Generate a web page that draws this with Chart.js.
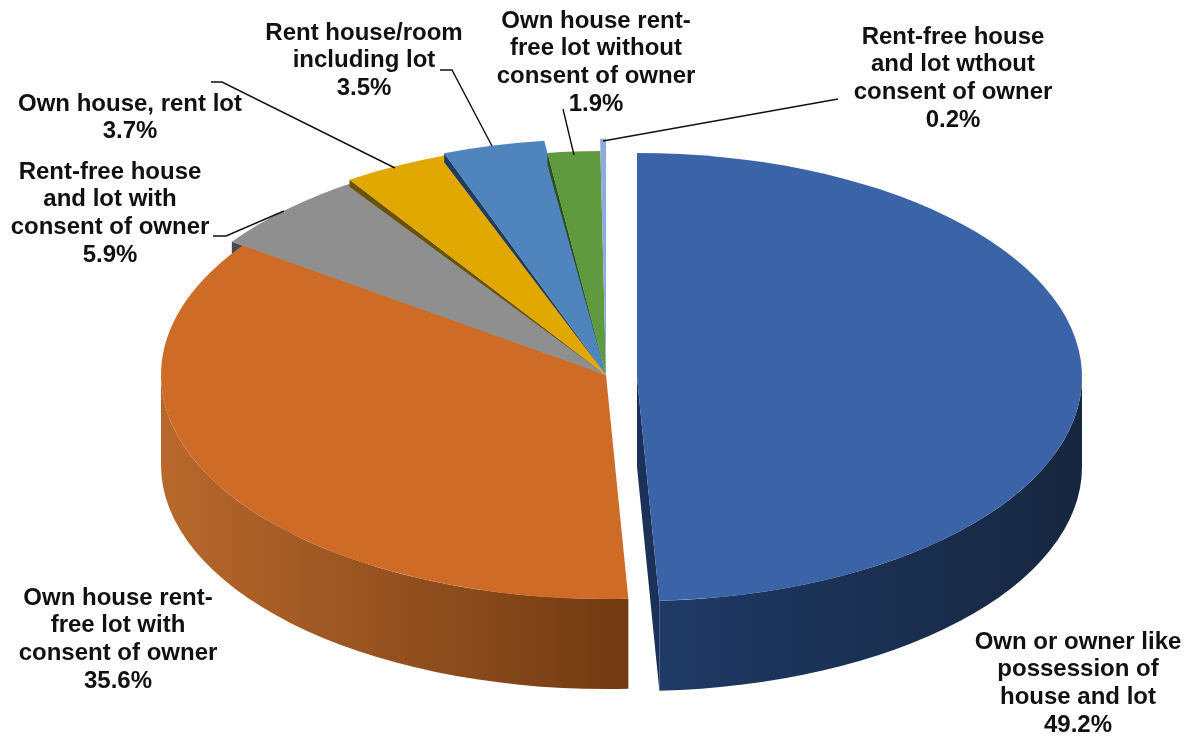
<!DOCTYPE html>
<html>
<head>
<meta charset="utf-8">
<title>Tenure status</title>
<script src="https://cdn.jsdelivr.net/npm/chart.js@4"></script>
<style>
    body { margin: 0; background: #fff; }
    canvas { display: block; }
</style>
</head>
<body>
<canvas id="pie" width="1192" height="740"></canvas>
<script>
const categories = [
    'Own or owner like possession of house and lot',
    'Own house rent-free lot with consent of owner',
    'Rent-free house and lot with consent of owner',
    'Own house, rent lot',
    'Rent house/room including lot',
    'Own house rent-free lot without consent of owner',
    'Rent-free house and lot wthout consent of owner'
];
const shares = [49.2, 35.6, 5.9, 3.7, 3.5, 1.9, 0.2];

const faceColors = ['#3b64a8', '#cd6b27', '#8f8f8f', '#e0a800', '#4f85bc', '#5f9a3e', '#8faadc'];
const edgeColors = ['#1b3157', '#713a12', '#454a50', '#6a5200', '#1f3d63', '#2f4f1f', '#5a73a8'];

// how the labels wrap, and where each one sits
const labelLines = [
    ['Own or owner like', 'possession of', 'house and lot'],
    ['Own house rent-', 'free lot with', 'consent of owner'],
    ['Rent-free house', 'and lot with', 'consent of owner'],
    ['Own house, rent lot'],
    ['Rent house/room', 'including lot'],
    ['Own house rent-', 'free lot without', 'consent of owner'],
    ['Rent-free house', 'and lot wthout', 'consent of owner']
];
const labelX = [1078, 118, 110, 130, 364, 596, 953];
const labelY = [642, 598, 172, 104, 33, 21, 37];
const lineGap = 27.8;

const leaders = [
    [[211, 82], [222, 82], [395, 168]],
    [[213, 236], [226, 236], [284, 211]],
    [[440, 70], [452, 70], [492, 146]],
    [[563, 109], [574, 155]],
    [[838, 99], [603, 141]]
];

// tilted look of the pie
const pieRadius = 300;
const rimX = 445;
const rimY = 224;
const depth = 90;
const scaleX = rimX / pieRadius;
const scaleY = rimY / pieRadius;

const explodeX = [31, 0, 0, 0, 0, 0, 0];
const explodeY = [2, 0, 0, 0, 0, 0, 0];
const rimScale = [1, 1, 1.03, 1.045, 1.055, 1, 1.055];
const edgeDrop = [0, 0, 15, 7, 9, 12, 0];
const drawOrder = [0, 2, 1, 3, 4, 5, 6];

function drawWall(ctx, arc, index, left, right) {
    const from = Math.max(arc.startAngle, 0);
    const to = Math.min(arc.endAngle, Math.PI);
    if (to <= from) return;
    const cx = arc.x + explodeX[index];
    const cy = arc.y + explodeY[index];
    const grad = ctx.createLinearGradient(cx + Math.cos(to) * rimX, 0, cx + Math.cos(from) * rimX, 0);
    grad.addColorStop(0, left);
    grad.addColorStop(1, right);
    ctx.fillStyle = grad;
    ctx.beginPath();
    ctx.ellipse(cx, cy, rimX, rimY, 0, from, to);
    ctx.ellipse(cx, cy + depth, rimX, rimY, 0, to, from, true);
    ctx.closePath();
    ctx.fill();
}

function drawFace(ctx, arc, index) {
    ctx.save();
    ctx.translate(arc.x + explodeX[index], arc.y + explodeY[index]);
    ctx.scale(scaleX * rimScale[index], scaleY * rimScale[index]);
    ctx.translate(-arc.x, -arc.y);
    arc.draw(ctx);
    ctx.restore();
}

function drawEdge(ctx, arc, index) {
    if (!edgeDrop[index]) return;
    const x = arc.x + Math.cos(arc.startAngle) * rimX * rimScale[index];
    const y = arc.y + Math.sin(arc.startAngle) * rimY * rimScale[index];
    ctx.fillStyle = edgeColors[index];
    ctx.beginPath();
    ctx.moveTo(arc.x, arc.y);
    ctx.lineTo(x, y);
    ctx.lineTo(x, y + edgeDrop[index]);
    ctx.closePath();
    ctx.fill();
}

const tiltedPie = {
    id: 'tiltedPie',
    beforeDatasetsDraw(chart) {
        const ctx = chart.ctx;
        const arcs = chart.getDatasetMeta(0).data;

        drawWall(ctx, arcs[0], 0, '#1f3a66', '#16263f');
        drawWall(ctx, arcs[1], 1, '#b8682c', '#713a12');

        // cut side of the pulled out slice
        const blue = arcs[0];
        const bx = blue.x + explodeX[0];
        const by = blue.y + explodeY[0];
        const ex = bx + Math.cos(blue.endAngle) * rimX;
        const ey = by + Math.sin(blue.endAngle) * rimY;
        ctx.fillStyle = '#1b3157';
        ctx.beginPath();
        ctx.moveTo(bx, by);
        ctx.lineTo(ex, ey);
        ctx.lineTo(ex, ey + depth);
        ctx.lineTo(bx, by + depth);
        ctx.closePath();
        ctx.fill();

        for (const i of drawOrder) {
            drawEdge(ctx, arcs[i], i);
            drawFace(ctx, arcs[i], i);
        }
        return false;
    },
    afterDraw(chart) {
        const ctx = chart.ctx;
        ctx.save();

        ctx.strokeStyle = '#111';
        ctx.lineWidth = 1.4;
        for (const points of leaders) {
            ctx.beginPath();
            points.forEach((p, i) => (i ? ctx.lineTo(p[0], p[1]) : ctx.moveTo(p[0], p[1])));
            ctx.stroke();
        }

        ctx.fillStyle = '#111';
        ctx.font = 'bold 24px "Liberation Sans", Arial, sans-serif';
        ctx.textAlign = 'center';
        ctx.textBaseline = 'middle';
        labelLines.forEach((lines, i) => {
            const all = lines.concat(shares[i].toFixed(1) + '%');
            all.forEach((line, n) => {
                ctx.fillText(line, labelX[i], labelY[i] + n * lineGap);
            });
        });
        ctx.restore();
    }
};

new Chart(document.getElementById('pie'), {
    type: 'pie',
    data: {
        labels: categories,
        datasets: [{
            data: shares,
            backgroundColor: faceColors,
            borderWidth: 0
        }]
    },
    options: {
        responsive: false,
        animation: false,
        radius: pieRadius,
        layout: { padding: { left: 20, top: 10 } },
        plugins: {
            legend: { display: false },
            tooltip: { enabled: false }
        }
    },
    plugins: [tiltedPie]
});
</script>
</body>
</html>
